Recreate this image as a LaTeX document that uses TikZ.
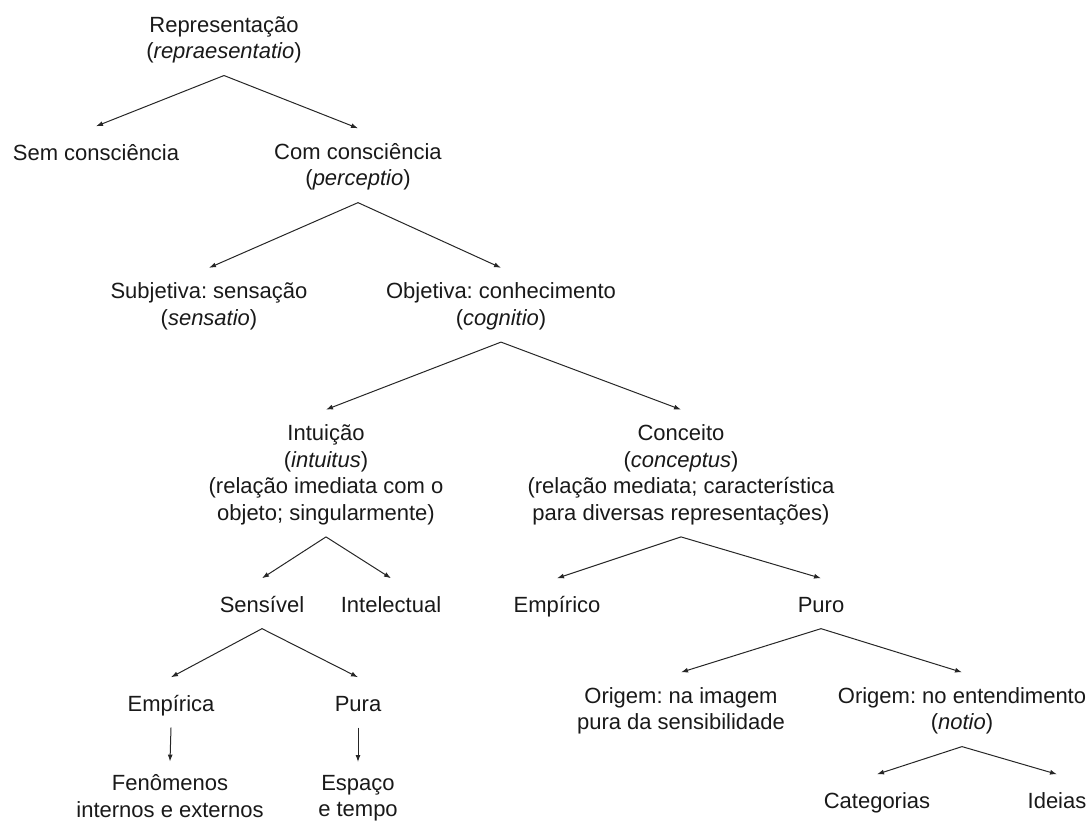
\documentclass[tikz,border=0pt]{standalone}
\usepackage{fontspec}
\setmainfont{Liberation Sans}
\usepackage{tikz}
\usetikzlibrary{arrows.meta}
\frenchspacing

\tikzset{
  lbl/.style={align=center, inner sep=0pt, text=black!90,
    font=\fontsize{22}{26.5}\selectfont,
    execute at begin node=\strut, execute at end node=\strut},
  arr/.style={line width=1pt, black!85, -{Latex[length=7pt,width=5pt]}}
}

\begin{document}
\begin{tikzpicture}[x=1pt,y=-1pt]
\useasboundingbox (0,0) rectangle (1089,820);
% nodes
\node[lbl] (root) at (224,41.7) {Representação\\(\textit{repraesentatio})};
\node[lbl] (sem) at (96,154.7) {Sem consciência};
\node[lbl] (com) at (358,168.7) {Com consciência\\(\textit{perceptio})};
\node[lbl] (subj) at (209,308.2) {Subjetiva: sensação\\(\textit{sensatio})};
\node[lbl] (obj) at (501,308.2) {Objetiva: conhecimento\\(\textit{cognitio})};
\node[lbl] (intuicao) at (326,476.5) {Intuição\\(\textit{intuitus})\\(relação imediata com o\\objeto; singularmente)};
\node[lbl] (conceito) at (681,476.5) {Conceito\\(\textit{conceptus})\\(relação mediata; característica\\para diversas representações)};
\node[lbl] (sensivel) at (262,606.7) {Sensível};
\node[lbl] (intelectual) at (391,606.7) {Intelectual};
\node[lbl] (empirico) at (557,606.7) {Empírico};
\node[lbl] (puro) at (821,606.7) {Puro};
\node[lbl] (empirica) at (171,705.7) {Empírica};
\node[lbl] (pura) at (358,705.7) {Pura};
\node[lbl] (fenomenos) at (170,800) {Fenômenos\\internos e externos};
\node[lbl] (espaco) at (358,800) {Espaço\\e tempo};
\node[lbl] (origimg) at (681,712.7) {Origem: na imagem\\pura da sensibilidade};
\node[lbl] (orignot) at (962,712.7) {Origem: no entendimento\\(\textit{notio})};
\node[lbl] (categorias) at (877,802.7) {Categorias};
\node[lbl] (ideias) at (1057,802.7) {Ideias};
% arrows
\draw[arr] ([yshift=-8.5pt]root.south) -- ([yshift=15pt]sem.north);
\draw[arr] ([yshift=-8.5pt]root.south) -- ([yshift=15pt]com.north);
\draw[arr] ([yshift=-8.5pt]com.south) -- ([yshift=15pt]subj.north);
\draw[arr] ([yshift=-8.5pt]com.south) -- ([yshift=15pt]obj.north);
\draw[arr] ([yshift=-8.5pt]obj.south) -- ([yshift=15pt]intuicao.north);
\draw[arr] ([yshift=-8.5pt]obj.south) -- ([yshift=15pt]conceito.north);
\draw[arr] ([yshift=-8.5pt]intuicao.south) -- ([yshift=15pt]sensivel.north);
\draw[arr] ([yshift=-8.5pt]intuicao.south) -- ([yshift=15pt]intelectual.north);
\draw[arr] ([yshift=-8.5pt]conceito.south) -- ([yshift=15pt]empirico.north);
\draw[arr] ([yshift=-8.5pt]conceito.south) -- ([yshift=15pt]puro.north);
\draw[arr] ([yshift=-8.5pt]sensivel.south) -- ([yshift=15pt]empirica.north);
\draw[arr] ([yshift=-8.5pt]sensivel.south) -- ([yshift=15pt]pura.north);
\draw[arr] ([yshift=-8.5pt]empirica.south) -- ([yshift=13pt]fenomenos.north);
\draw[arr] ([yshift=-8.5pt]pura.south) -- ([yshift=13pt]espaco.north);
\draw[arr] ([yshift=-8.5pt]puro.south) -- ([yshift=15pt]origimg.north);
\draw[arr] ([yshift=-8.5pt]puro.south) -- ([yshift=15pt]orignot.north);
\draw[arr] ([yshift=-8.5pt]orignot.south) -- ([yshift=15pt]categorias.north);
\draw[arr] ([yshift=-8.5pt]orignot.south) -- ([yshift=15pt]ideias.north);
\end{tikzpicture}
\end{document}
